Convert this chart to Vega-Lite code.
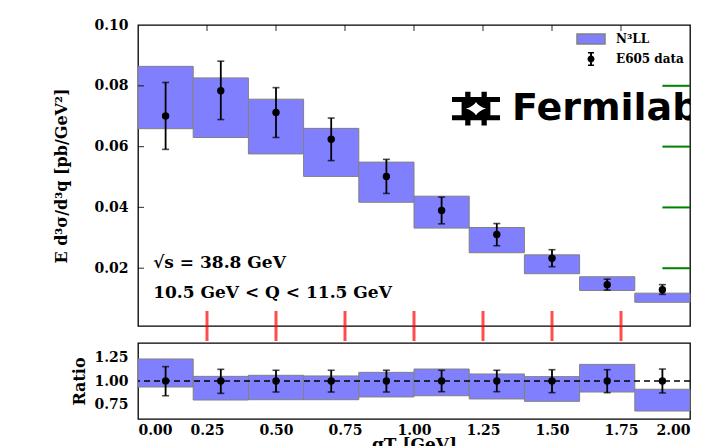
{
  "$schema": "https://vega.github.io/schema/vega-lite/v6.json",
  "padding": {"left": 53, "top": 17, "right": 0, "bottom": 0},
  "datasets": {
    "theory": [
      {"lo": 0.0, "hi": 0.2, "ylo": 0.0659, "yhi": 0.0864, "rlo": 0.937, "rhi": 1.232},
      {"lo": 0.2, "hi": 0.4, "ylo": 0.0630, "yhi": 0.0826, "rlo": 0.800, "rhi": 1.049},
      {"lo": 0.4, "hi": 0.6, "ylo": 0.0576, "yhi": 0.0756, "rlo": 0.803, "rhi": 1.060},
      {"lo": 0.6, "hi": 0.8, "ylo": 0.0502, "yhi": 0.0660, "rlo": 0.803, "rhi": 1.053},
      {"lo": 0.8, "hi": 1.0, "ylo": 0.0417, "yhi": 0.0549, "rlo": 0.832, "rhi": 1.091},
      {"lo": 1.0, "hi": 1.2, "ylo": 0.0332, "yhi": 0.0437, "rlo": 0.845, "rhi": 1.126},
      {"lo": 1.2, "hi": 1.4, "ylo": 0.0251, "yhi": 0.0334, "rlo": 0.811, "rhi": 1.074},
      {"lo": 1.4, "hi": 1.6, "ylo": 0.0182, "yhi": 0.0244, "rlo": 0.786, "rhi": 1.046},
      {"lo": 1.6, "hi": 1.8, "ylo": 0.0127, "yhi": 0.0172, "rlo": 0.884, "rhi": 1.175},
      {"lo": 1.8, "hi": 2.0, "ylo": 0.0088, "yhi": 0.0118, "rlo": 0.684, "rhi": 0.913}
    ],
    "measured": [
      {"q": 0.1, "y": 0.0701, "ylo": 0.0591, "yhi": 0.0811, "r": 1, "rlo": 0.845, "rhi": 1.151},
      {"q": 0.3, "y": 0.0784, "ylo": 0.0689, "yhi": 0.0881, "r": 1, "rlo": 0.870, "rhi": 1.123},
      {"q": 0.5, "y": 0.0712, "ylo": 0.0630, "yhi": 0.0794, "r": 1, "rlo": 0.884, "rhi": 1.113},
      {"q": 0.7, "y": 0.0624, "ylo": 0.0554, "yhi": 0.0694, "r": 1, "rlo": 0.884, "rhi": 1.113},
      {"q": 0.9, "y": 0.0502, "ylo": 0.0446, "yhi": 0.0558, "r": 1, "rlo": 0.884, "rhi": 1.113},
      {"q": 1.1, "y": 0.0390, "ylo": 0.0346, "yhi": 0.0434, "r": 1, "rlo": 0.888, "rhi": 1.113},
      {"q": 1.3, "y": 0.0311, "ylo": 0.0274, "yhi": 0.0347, "r": 1, "rlo": 0.888, "rhi": 1.113},
      {"q": 1.5, "y": 0.0233, "ylo": 0.0205, "yhi": 0.0261, "r": 1, "rlo": 0.877, "rhi": 1.119},
      {"q": 1.7, "y": 0.0146, "ylo": 0.0128, "yhi": 0.0164, "r": 1, "rlo": 0.877, "rhi": 1.119},
      {"q": 1.9, "y": 0.0129, "ylo": 0.0114, "yhi": 0.0146, "r": 1, "rlo": 0.874, "rhi": 1.126}
    ],
    "xmaj": [{"v": 0.25}, {"v": 0.5}, {"v": 0.75}, {"v": 1.0}, {"v": 1.25}, {"v": 1.5}, {"v": 1.75}],
    "xmin": [{"v": 0.05}, {"v": 0.1}, {"v": 0.15}, {"v": 0.2}, {"v": 0.3}, {"v": 0.35}, {"v": 0.4}, {"v": 0.45}, {"v": 0.55}, {"v": 0.6}, {"v": 0.65}, {"v": 0.7}, {"v": 0.8}, {"v": 0.85}, {"v": 0.9}, {"v": 0.95}, {"v": 1.05}, {"v": 1.1}, {"v": 1.15}, {"v": 1.2}, {"v": 1.3}, {"v": 1.35}, {"v": 1.4}, {"v": 1.45}, {"v": 1.55}, {"v": 1.6}, {"v": 1.65}, {"v": 1.7}, {"v": 1.8}, {"v": 1.85}, {"v": 1.9}, {"v": 1.95}],
    "ymaj": [{"v": 0.02}, {"v": 0.04}, {"v": 0.06}, {"v": 0.08}],
    "ymin": [{"v": 0.005}, {"v": 0.01}, {"v": 0.015}, {"v": 0.025}, {"v": 0.03}, {"v": 0.035}, {"v": 0.045}, {"v": 0.05}, {"v": 0.055}, {"v": 0.065}, {"v": 0.07}, {"v": 0.075}, {"v": 0.085}, {"v": 0.09}, {"v": 0.095}],
    "rmaj": [{"v": 0.75}, {"v": 1.0}, {"v": 1.25}],
    "rmin": [{"v": 0.65}, {"v": 0.7}, {"v": 0.8}, {"v": 0.85}, {"v": 0.9}, {"v": 0.95}, {"v": 1.05}, {"v": 1.1}, {"v": 1.15}, {"v": 1.2}, {"v": 1.3}, {"v": 1.35}]
  },
  "vconcat": [
    {
      "width": 552,
      "height": 301,
      "resolve": {"axis": {"x": "independent", "y": "independent"}},
      "layer": [
        {
          "data": {"name": "theory"},
          "mark": {"type": "rect", "color": "#8080ff", "stroke": "#808080", "strokeWidth": 1},
          "encoding": {
            "x": {"field": "lo", "type": "quantitative", "scale": {"domain": [0, 2], "nice": false, "zero": false},
                  "axis": {"orient": "bottom", "values": [0, 0.25, 0.5, 0.75, 1, 1.25, 1.5, 1.75, 2], "labels": false, "tickSize": 0, "title": null}},
            "x2": {"field": "hi"},
            "y": {"field": "ylo", "type": "quantitative", "scale": {"domain": [0.001, 0.1], "nice": false, "zero": false},
                  "axis": {"orient": "left", "values": [0.02, 0.04, 0.06, 0.08, 0.1], "format": ".2f", "tickSize": 0, "labelPadding": 10, "title": "E d³σ/d³q [pb/GeV²]", "titlePadding": 24}},
            "y2": {"field": "yhi"}
          }
        },
        {
          "data": {"name": "measured"},
          "mark": {"type": "rule", "color": "black", "strokeWidth": 1.8},
          "encoding": {
            "x": {"field": "q", "type": "quantitative", "axis": null},
            "y": {"field": "ylo", "type": "quantitative", "axis": null},
            "y2": {"field": "yhi"}
          }
        },
        {
          "data": {"name": "measured"},
          "mark": {"type": "tick", "orient": "horizontal", "color": "black", "size": 7, "thickness": 1.6},
          "encoding": {
            "x": {"field": "q", "type": "quantitative", "axis": null},
            "y": {"field": "ylo", "type": "quantitative", "axis": null}
          }
        },
        {
          "data": {"name": "measured"},
          "mark": {"type": "tick", "orient": "horizontal", "color": "black", "size": 7, "thickness": 1.6},
          "encoding": {
            "x": {"field": "q", "type": "quantitative", "axis": null},
            "y": {"field": "yhi", "type": "quantitative", "axis": null}
          }
        },
        {
          "data": {"name": "measured"},
          "mark": {"type": "point", "filled": true, "color": "black", "size": 55, "opacity": 1},
          "encoding": {
            "x": {"field": "q", "type": "quantitative", "axis": null},
            "y": {"field": "y", "type": "quantitative", "axis": null}
          }
        },
        {
          "data": {"name": "xmaj"},
          "mark": {"type": "tick", "orient": "vertical", "color": "red", "size": 30, "thickness": 3},
          "encoding": {
            "x": {"field": "v", "type": "quantitative", "axis": null},
            "y": {"datum": 0.001, "type": "quantitative", "axis": null}
          }
        },
        {
          "data": {"name": "xmaj"},
          "mark": {"type": "tick", "orient": "vertical", "color": "black", "size": 12, "thickness": 1.2, "clip": true},
          "encoding": {
            "x": {"field": "v", "type": "quantitative", "axis": null},
            "y": {"datum": 0.1, "type": "quantitative", "axis": null}
          }
        },
        {
          "data": {"name": "ymaj"},
          "mark": {"type": "tick", "orient": "horizontal", "color": "black", "size": 12, "thickness": 1.2, "clip": true},
          "encoding": {
            "y": {"field": "v", "type": "quantitative", "axis": null},
            "x": {"datum": 0, "type": "quantitative", "axis": null}
          }
        },
        {
          "data": {"name": "ymaj"},
          "mark": {"type": "rule", "color": "green", "strokeWidth": 2},
          "encoding": {
            "y": {"field": "v", "type": "quantitative", "axis": null},
            "x": {"datum": 1.9, "type": "quantitative", "axis": null},
            "x2": {"datum": 2}
          }
        },
        {
          "data": {"values": []},
          "mark": {"type": "point", "filled": true, "strokeWidth": 0.8, "opacity": 1},
          "encoding": {
            "color": {"field": "series", "type": "nominal",
                      "scale": {"domain": ["N³LL", "E605 data"], "range": ["#8080ff", "#000000"]},
                      "legend": {
                        "orient": "top-right", "offset": 6, "title": null, "padding": 0,
                        "labelFont": "DejaVu Serif", "labelFontWeight": "bold", "labelFontSize": 12, "labelColor": "black",
                        "symbolSize": 196, "labelOffset": 17, "rowPadding": 2, "symbolOpacity": 1
                      }},
            "shape": {"field": "series", "type": "nominal",
                      "scale": {"domain": ["N³LL", "E605 data"], "range": ["M-2,-0.71H2V0.71H-2Z", "M-0.14,-1H0.14V1H-0.14Z M-0.43,-1H0.43V-0.8H-0.43Z M-0.43,0.8H0.43V1H-0.43Z M0.5,0A0.5,0.5,0,1,1,-0.5,0A0.5,0.5,0,1,1,0.5,0Z"]}},
            "stroke": {"field": "series", "type": "nominal",
                       "scale": {"domain": ["N³LL", "E605 data"], "range": ["#808080", "transparent"]}}
          }
        },
        {
          "data": {"values": [{}]},
          "mark": {"type": "text", "text": "√s = 38.8 GeV", "align": "left", "baseline": "middle", "font": "DejaVu Serif", "fontWeight": "bold", "fontSize": 17, "color": "black"},
          "encoding": {
            "x": {"datum": 0.055, "type": "quantitative", "axis": null},
            "y": {"datum": 0.0218, "type": "quantitative", "axis": null}
          }
        },
        {
          "data": {"values": [{}]},
          "mark": {"type": "text", "text": "10.5 GeV < Q < 11.5 GeV", "align": "left", "baseline": "middle", "font": "DejaVu Serif", "fontWeight": "bold", "fontSize": 17, "color": "black"},
          "encoding": {
            "x": {"datum": 0.055, "type": "quantitative", "axis": null},
            "y": {"datum": 0.0119, "type": "quantitative", "axis": null}
          }
        },
        {
          "data": {"values": [{}]},
          "mark": {"type": "text", "text": "Fermilab", "align": "left", "baseline": "middle", "font": "DejaVu Sans", "fontWeight": "bold", "fontSize": 38, "color": "black", "clip": true},
          "encoding": {
            "x": {"datum": 1.355, "type": "quantitative", "axis": null},
            "y": {"datum": 0.0725, "type": "quantitative", "axis": null}
          }
        },
        {
          "data": {"values": [{}]},
          "mark": {"type": "point", "filled": true, "color": "black", "opacity": 1, "size": 2304, "strokeWidth": 0,
                   "shape": "M-0.45,-0.7H-0.23V-0.48H-0.45Z M0.23,-0.7H0.45V-0.48H0.23Z M-1,-0.48H1V-0.28H-1Z M-0.6,-0.28H0.6V0.28H-0.6Z M0,-0.28Q-0.1,-0.1,-0.42,0Q-0.1,0.1,0,0.28Q0.1,0.1,0.42,0Q0.1,-0.1,0,-0.28Z M-1,0.28H1V0.48H-1Z M-0.45,0.48H-0.23V0.7H-0.45Z M0.23,0.48H0.45V0.7H0.23Z"},
          "encoding": {
            "x": {"datum": 1.2246, "type": "quantitative", "axis": null},
            "y": {"datum": 0.0725, "type": "quantitative", "axis": null}
          }
        }
      ]
    },
    {
      "width": 552,
      "height": 76,
      "resolve": {"axis": {"x": "independent", "y": "independent"}},
      "layer": [
        {
          "data": {"name": "theory"},
          "mark": {"type": "rect", "stroke": "#808080", "strokeWidth": 1, "color": "#8080ff"},
          "encoding": {
            "x": {"field": "lo", "type": "quantitative", "scale": {"domain": [0, 2], "nice": false, "zero": false},
                  "axis": {"orient": "bottom", "values": [0, 0.25, 0.5, 0.75, 1, 1.25, 1.5, 1.75, 2], "format": ".2f", "tickSize": 0, "labelPadding": 4, "title": "qT [GeV]", "titlePadding": -1, "titleFontSize": 17}},
            "x2": {"field": "hi"},
            "y": {"field": "rlo", "type": "quantitative", "scale": {"domain": [0.6, 1.4], "nice": false, "zero": false},
                  "axis": {"orient": "left", "values": [0.75, 1.0, 1.25], "format": ".2f", "tickSize": 0, "labelPadding": 10, "title": "Ratio", "titlePadding": 6}},
            "y2": {"field": "rhi"}
          }
        },
        {
          "data": {"values": [{}]},
          "mark": {"type": "rule", "color": "black", "strokeWidth": 1.3, "strokeDash": [6, 4]},
          "encoding": {
            "y": {"datum": 1, "type": "quantitative", "axis": null}
          }
        },
        {
          "data": {"name": "measured"},
          "mark": {"type": "rule", "color": "black", "strokeWidth": 1.8},
          "encoding": {
            "x": {"field": "q", "type": "quantitative", "axis": null},
            "y": {"field": "rlo", "type": "quantitative", "axis": null},
            "y2": {"field": "rhi"}
          }
        },
        {
          "data": {"name": "measured"},
          "mark": {"type": "tick", "orient": "horizontal", "color": "black", "size": 7, "thickness": 1.6},
          "encoding": {
            "x": {"field": "q", "type": "quantitative", "axis": null},
            "y": {"field": "rlo", "type": "quantitative", "axis": null}
          }
        },
        {
          "data": {"name": "measured"},
          "mark": {"type": "tick", "orient": "horizontal", "color": "black", "size": 7, "thickness": 1.6},
          "encoding": {
            "x": {"field": "q", "type": "quantitative", "axis": null},
            "y": {"field": "rhi", "type": "quantitative", "axis": null}
          }
        },
        {
          "data": {"name": "measured"},
          "mark": {"type": "point", "filled": true, "color": "black", "size": 55, "opacity": 1},
          "encoding": {
            "x": {"field": "q", "type": "quantitative", "axis": null},
            "y": {"field": "r", "type": "quantitative", "axis": null}
          }
        }
      ]
    }
  ],
  "config": {
    "view": {"stroke": "black", "strokeWidth": 1.3},
    "concat": {"spacing": 0},
    "axis": {
      "domain": false, "grid": false,
      "labelFont": "DejaVu Serif", "labelFontWeight": "bold", "labelFontSize": 14, "labelColor": "black",
      "titleFont": "DejaVu Serif", "titleFontWeight": "bold", "titleFontSize": 16, "titleColor": "black"
    }
  }
}
